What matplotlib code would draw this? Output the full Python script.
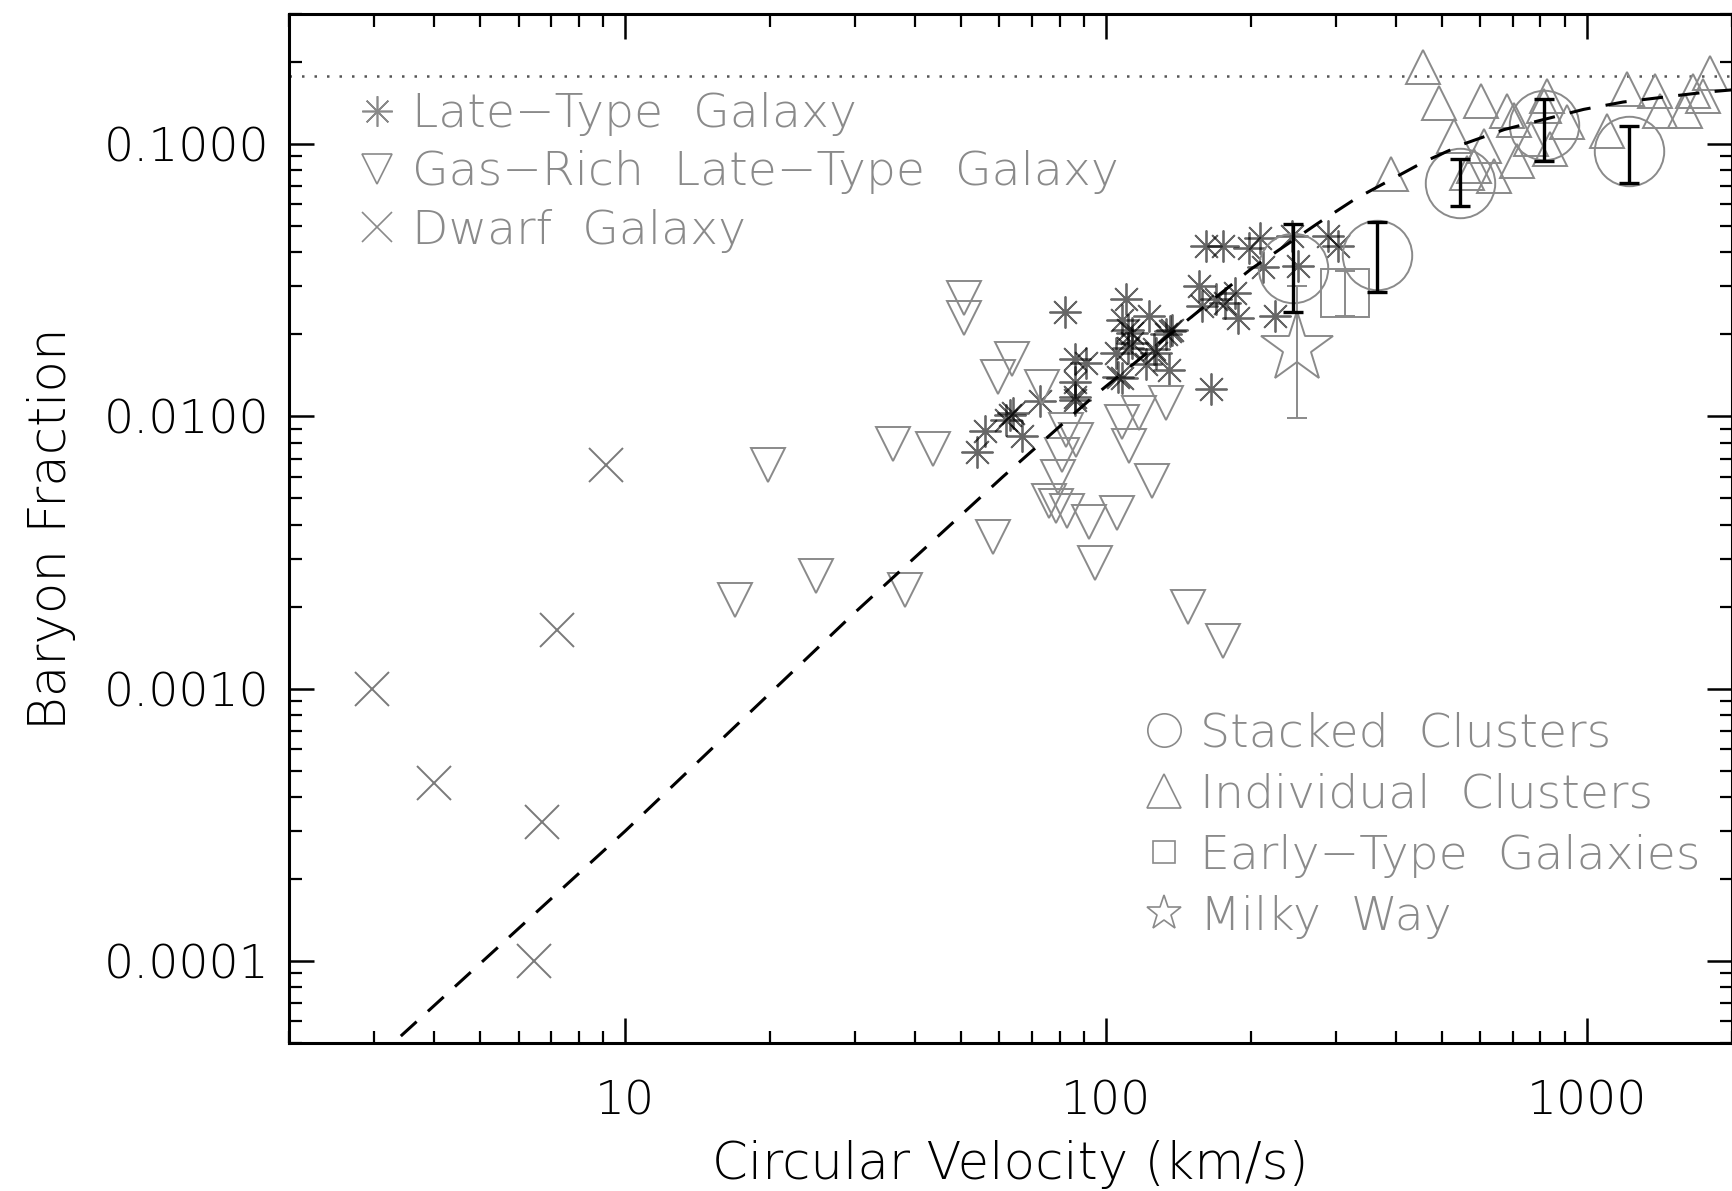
import numpy as np
import matplotlib.pyplot as plt
from matplotlib.lines import Line2D
from matplotlib.ticker import FixedLocator, FixedFormatter, LogLocator, NullFormatter

plt.rcParams['font.family'] = ['DejaVu Sans']
plt.rcParams['font.weight'] = 'light'

# dwarf galaxies (x)
dwarf_v = [2.98, 4.0, 6.7, 6.46, 7.2, 9.1]
dwarf_f = [0.0010, 0.00045, 0.000325, 0.0001, 0.00164, 0.0066]

# gas-rich late-type galaxies (down triangles)
gas_v = [16.9, 19.8, 24.9, 36.1, 38.1, 43.7, 50.7, 50.7, 58.1, 59.7, 63.8, 73.6,
         78.5, 79.6, 80.9, 82.4, 83.0, 86.5, 92.0, 95.0, 105.4, 108, 111.4, 117,
         124.8, 133, 148, 175, 76]
gas_f = [0.00211, 0.0066, 0.0026, 0.0079, 0.0023, 0.0076, 0.0272, 0.0230, 0.0036,
         0.0139, 0.0163, 0.0128, 0.00467, 0.0060, 0.0072, 0.0089, 0.0045, 0.0082,
         0.0041, 0.0029, 0.0044, 0.0095, 0.00775, 0.0103, 0.0058, 0.0112, 0.0020,
         0.0015, 0.0049]

# late-type galaxies (asterisks)
late_v = [54, 56, 62, 64, 67, 73, 63, 82, 86, 86, 86, 86, 91, 105, 106, 108, 108,
          110, 111, 111, 113, 113, 121, 123, 126, 127, 133, 135, 136, 137, 156, 158,
          161, 165, 169, 175, 177, 185, 188, 198, 209, 212, 224, 243, 251, 289, 303]
late_f = [0.0074, 0.0088, 0.0097, 0.0103, 0.0085, 0.0114, 0.0101, 0.0242, 0.0162,
          0.0134, 0.0118, 0.0115, 0.0157, 0.0171, 0.0140, 0.0138, 0.0226, 0.0269,
          0.0178, 0.0208, 0.0202, 0.0186, 0.0155, 0.0233, 0.0176, 0.0171, 0.0200,
          0.0148, 0.0205, 0.0208, 0.0300, 0.0254, 0.0422, 0.0126, 0.0269, 0.0422,
          0.0261, 0.0284, 0.0230, 0.0416, 0.0453, 0.0352, 0.0233, 0.0459, 0.0356,
          0.0460, 0.0422]

# individual clusters (up triangles)
ind_v = [392, 455, 493, 530, 564, 583, 601, 611, 641, 683, 705, 716, 763, 812, 826,
         839, 908, 1099, 1210, 1385, 1418, 1597, 1662, 1743, 1800]
ind_f = [0.0774, 0.191, 0.142, 0.107, 0.0785, 0.083, 0.144, 0.0984, 0.0763, 0.132,
         0.122, 0.0867, 0.104, 0.138, 0.150, 0.0957, 0.120, 0.1117, 0.159, 0.157,
         0.132, 0.132, 0.157, 0.150, 0.183]

# stacked clusters (circles + error bars)
stack_v = [245, 365, 545, 815, 1225]
stack_f = [0.035, 0.039, 0.072, 0.117, 0.094]
stack_lo = [0.0241, 0.0286, 0.0591, 0.0867, 0.0717]
stack_hi = [0.0507, 0.0519, 0.0884, 0.146, 0.116]

# early-type galaxies and Milky Way
early_v, early_f, early_lo, early_hi = [314], [0.0284], [0.0233], [0.0341]
mw_v, mw_f, mw_lo, mw_hi = [250], [0.0178], [0.0099], [0.030]

# model curve and cosmic baryon fraction
model_v = [3.0, 10, 30, 61, 78.5, 94, 146, 200, 275, 329, 458, 554, 673, 984, 1189,
           1462, 1766, 2000]
model_f = [4.3e-5, 3.0e-4, 1.9e-3, 6.0e-3, 8.9e-3, 1.18e-2, 2.22e-2, 3.47e-2, 5.1e-2,
           6.27e-2, 8.6e-2, 0.100, 0.113, 0.134, 0.1426, 0.149, 0.155, 0.158]
f_cosmic = 0.177

ytick_vals = [0.0001, 0.001, 0.01, 0.1]
ytick_labels = ['0.0001', '0.0010', '0.0100', '0.1000']
xtick_vals = [10, 100, 1000]
xtick_labels = ['10', '100', '1000']

gray = '#8a8a8a'

fig = plt.figure(figsize=(17.33, 11.91), dpi=100)
ax = fig.add_axes([0.1668, 0.1243, 0.8325, 0.8639])
ax.set_xscale('log')
ax.set_yscale('log')
ax.set_xlim(2, 2000)
ax.set_ylim(5e-5, 0.3)

ax.axhline(f_cosmic, color='#555555', lw=1.8, ls=(0, (1, 4)), zorder=1)
ax.plot(model_v, model_f, color='k', lw=2.2, ls=(0, (7, 5)), zorder=6)

ax.plot(dwarf_v, dwarf_f, ls='none', marker='x', ms=25, mew=1.4, color='#7a7a7a')
ax.plot(late_v, late_f, ls='none', marker=(8, 2, 0), ms=23, mew=1.3, color='k', alpha=0.6, zorder=3)
ax.plot(gas_v, gas_f, ls='none', marker='v', ms=25, mew=1.4, mfc='none', mec=gray, zorder=4)
ax.plot(ind_v, ind_f, ls='none', marker='^', ms=25, mew=1.4, mfc='none', mec=gray, zorder=4)

ax.plot(stack_v, stack_f, ls='none', marker='o', ms=50, mew=1.4, mfc='none', mec=gray, zorder=4)
yerr = [np.array(stack_f) - np.array(stack_lo), np.array(stack_hi) - np.array(stack_f)]
ax.errorbar(stack_v, stack_f, yerr=yerr, fmt='none', ecolor='k', elinewidth=2.4,
            capsize=7, capthick=2.4, zorder=7)

ax.plot(early_v, early_f, ls='none', marker='s', ms=34, mew=1.4, mfc='none', mec=gray, zorder=4)
ax.errorbar(early_v, early_f, yerr=[[early_f[0] - early_lo[0]], [early_hi[0] - early_f[0]]],
            fmt='none', ecolor=gray, elinewidth=1.4, capsize=7, capthick=1.4, zorder=4)
ax.plot(mw_v, mw_f, ls='none', marker='*', ms=54, mew=1.4, mfc='none', mec=gray, zorder=4)
ax.errorbar(mw_v, mw_f, yerr=[[mw_f[0] - mw_lo[0]], [mw_hi[0] - mw_f[0]]],
            fmt='none', ecolor=gray, elinewidth=1.4, capsize=7, capthick=1.4, zorder=4)

# axes styling, IDL look
for s in ax.spines.values():
    s.set_linewidth(2.2)
ax.yaxis.set_major_locator(FixedLocator(ytick_vals))
ax.yaxis.set_major_formatter(FixedFormatter(ytick_labels))
ax.xaxis.set_major_locator(FixedLocator(xtick_vals))
ax.xaxis.set_major_formatter(FixedFormatter(xtick_labels))
ax.xaxis.set_minor_locator(LogLocator(base=10, subs=np.arange(2, 10)))
ax.yaxis.set_minor_locator(LogLocator(base=10, subs=np.arange(2, 10)))
ax.xaxis.set_minor_formatter(NullFormatter())
ax.yaxis.set_minor_formatter(NullFormatter())
ax.tick_params(which='both', direction='in', top=True, right=True, color='k')
ax.tick_params(which='major', length=18, width=1.8, labelsize=34)
ax.tick_params(which='minor', length=9, width=1.6)
ax.tick_params(axis='x', which='major', pad=26)
ax.tick_params(axis='y', which='major', pad=14)

ax.set_xlabel('Circular Velocity (km/s)', fontsize=37, fontweight='light', labelpad=12)
ax.set_ylabel('Baryon Fraction', fontsize=37, fontweight='light', labelpad=20)

h1 = [Line2D([], [], ls='none', marker=(8, 2, 0), ms=22, mew=1.2, color=gray),
      Line2D([], [], ls='none', marker='v', ms=22, mew=1.2, mfc='none', mec=gray),
      Line2D([], [], ls='none', marker='x', ms=22, mew=1.2, color=gray)]
l1 = ax.legend(h1, ['Late\u2212Type  Galaxy', 'Gas\u2212Rich  Late\u2212Type  Galaxy', 'Dwarf  Galaxy'],
               loc='upper left', bbox_to_anchor=(0.046, 0.924), frameon=False, fontsize=34,
               labelcolor=gray, handlelength=0.9, handletextpad=0.3, labelspacing=0.3,
               borderpad=0, borderaxespad=0)
ax.add_artist(l1)

h2 = [Line2D([], [], ls='none', marker='o', ms=24, mew=1.2, mfc='none', mec=gray),
      Line2D([], [], ls='none', marker='^', ms=24, mew=1.2, mfc='none', mec=gray),
      Line2D([], [], ls='none', marker='s', ms=16, mew=1.2, mfc='none', mec=gray),
      Line2D([], [], ls='none', marker='*', ms=26, mew=1.2, mfc='none', mec=gray)]
ax.legend(h2, ['Stacked  Clusters', 'Individual  Clusters', 'Early\u2212Type  Galaxies', 'Milky  Way'],
          loc='upper left', bbox_to_anchor=(0.592, 0.322), frameon=False, fontsize=34,
          labelcolor=gray, handlelength=0.9, handletextpad=0.3, labelspacing=0.36,
          borderpad=0, borderaxespad=0)

fig.savefig('out.png', dpi=100)
